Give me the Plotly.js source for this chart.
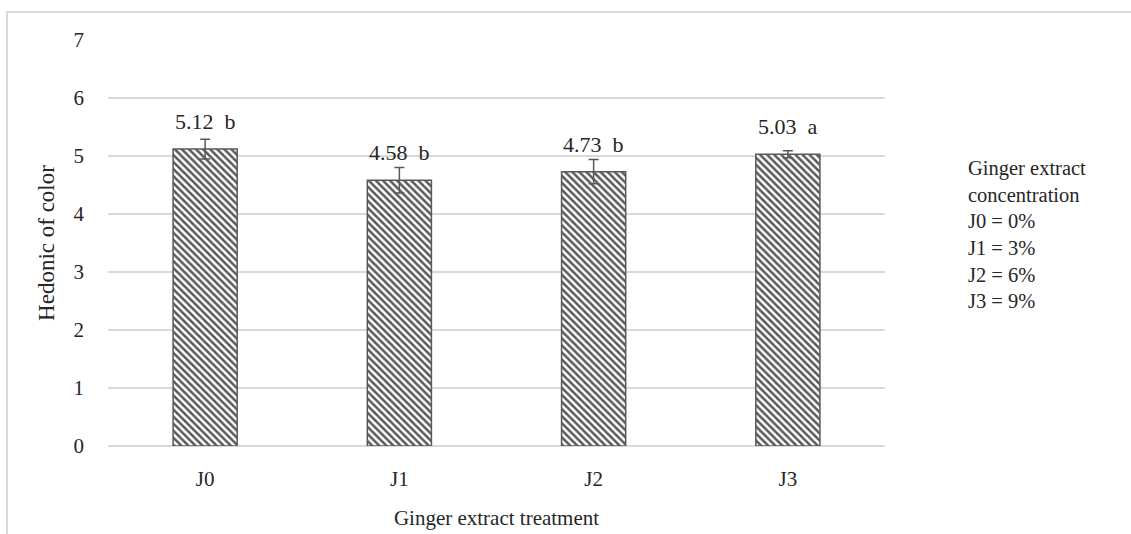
<!DOCTYPE html>
<html>
<head>
<meta charset="utf-8">
<script src="https://cdn.plot.ly/plotly-3.0.1.min.js"></script>
<style>
  html, body { margin: 0; padding: 0; background: #fff; }
  #wrap { position: relative; width: 1131px; height: 534px; }
  #chart { position: absolute; left: 0; top: 0; width: 1131px; height: 534px; }
  #frame { position: absolute; left: 6px; top: 11px; width: 1130px; height: 530px;
           border-left: 2px solid #d9d9d9; border-top: 2px solid #d9d9d9; pointer-events: none; }
</style>
</head>
<body>
<div id="wrap">
  <div id="chart"></div>
  <div id="frame"></div>
</div>
<script>
const categories = ["J0", "J1", "J2", "J3"];
const values = [5.12, 4.58, 4.73, 5.03];
const errors = [0.17, 0.22, 0.21, 0.06];
const letters = ["b", "b", "b", "a"];
const yTicks = [0, 1, 2, 3, 4, 5, 6, 7];
const legendLines = ["Ginger extract", "concentration", "J0 = 0%", "J1 = 3%", "J2 = 6%", "J3 = 9%"];

const FONT = "Liberation Serif";
const TXT = "#262626";

const trace = {
  type: "bar",
  x: categories,
  y: values,
  width: 0.33,
  marker: {
    color: "#ffffff",
    line: { color: "#595959", width: 1.5 },
    pattern: { shape: "\\", fgcolor: "#595959", bgcolor: "#ffffff", size: 5, solidity: 0.5, fillmode: "replace" }
  },
  error_y: { type: "data", array: errors, visible: true, color: "#595959", thickness: 1.5, width: 5 },
  hoverinfo: "skip"
};

const annotations = categories.map((c, i) => ({
  x: c, y: values[i], xref: "x", yref: "y",
  text: values[i].toFixed(2) + "\u00a0\u00a0" + letters[i],
  showarrow: false, yanchor: "bottom", yshift: 13,
  font: { family: FONT, size: 22, color: TXT }
}));

annotations.push({
  xref: "paper", yref: "paper", x: 1.104, y: 0.717, xanchor: "left", yanchor: "top",
  align: "left", showarrow: false,
  text: legendLines.join("<br>"),
  font: { family: FONT, size: 20.5, color: TXT }
});

const layout = {
  width: 1131, height: 534,
  margin: { l: 108, r: 246, t: 40, b: 88 },
  paper_bgcolor: "#ffffff", plot_bgcolor: "#ffffff",
  showlegend: false,
  font: { family: FONT, color: TXT, size: 21 },
  xaxis: {
    type: "category",
    showgrid: false, showline: false, zeroline: false, ticks: "",
    ticklabelstandoff: 18,
    tickfont: { family: FONT, size: 21, color: TXT },
    title: { text: "Ginger extract treatment", font: { family: FONT, size: 21, color: TXT }, standoff: 20 }
  },
  yaxis: {
    range: [0, 7], tickvals: yTicks, ticktext: yTicks.map(String),
    showgrid: true, gridcolor: "#d9d9d9", gridwidth: 1.5,
    zeroline: true, zerolinecolor: "#d9d9d9", zerolinewidth: 1.5,
    showline: false, ticks: "",
    ticklabelstandoff: 23,
    tickfont: { family: FONT, size: 21, color: TXT },
    title: { text: "Hedonic of color", font: { family: FONT, size: 23, color: TXT }, standoff: 12 }
  },
  annotations: annotations
};

Plotly.newPlot("chart", [trace], layout, { staticPlot: true, displayModeBar: false });
</script>
</body>
</html>
